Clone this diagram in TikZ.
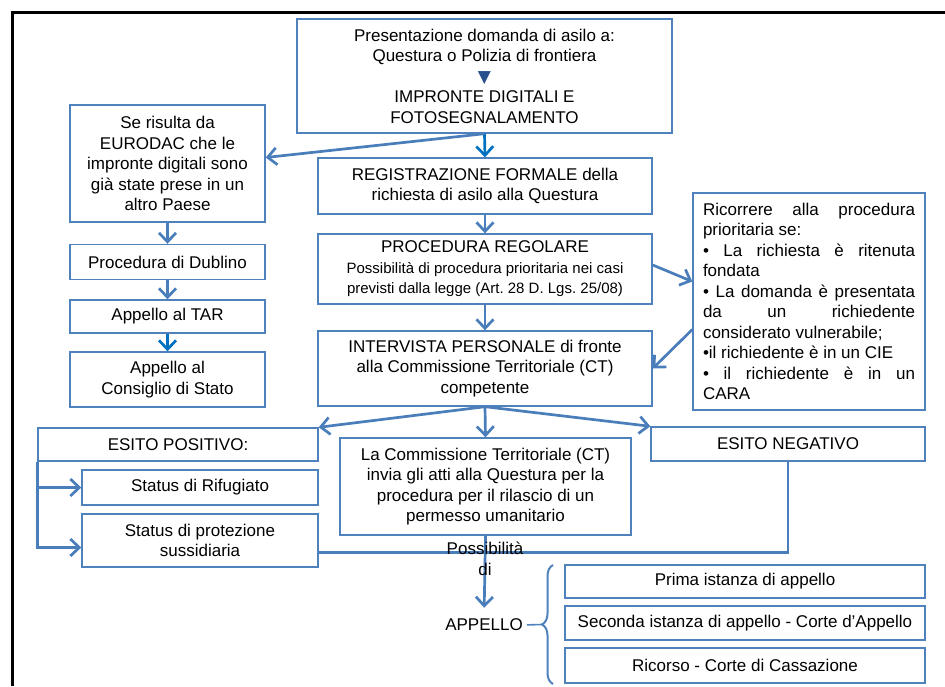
\documentclass[tikz,border=0pt]{standalone}
\usepackage{fontspec}
\setmainfont{Liberation Sans}
\newfontfamily\symbfont{DejaVu Sans}
\usepackage{tikz}
\usetikzlibrary{arrows.meta,calc,decorations.pathreplacing}
\definecolor{boxblue}{RGB}{79,129,189}
\definecolor{linkblue}{RGB}{74,126,187}
\definecolor{darkblue}{RGB}{0,112,192}
\definecolor{triblue}{RGB}{40,80,140}
\newcommand\nohyphens{\hyphenpenalty=10000 \exhyphenpenalty=10000 \tolerance=9999 \relax}

\begin{document}
\begin{tikzpicture}[
    x=1pt, y=-1pt,
    box/.style={draw=boxblue, line width=1.4pt, fill=white, align=center, inner sep=0pt, font=\fontsize{17}{20.5}\selectfont},
    freetext/.style={inner sep=0pt, align=center, font=\fontsize{17}{20.5}\selectfont},
    edge/.style={-{Straight Barb[length=9pt,width=17pt]}, draw=linkblue, line width=2.7pt},
    link/.style={draw=linkblue, line width=2.7pt},
    bracket/.style={draw=boxblue, line width=2pt, decorate, decoration={brace, amplitude=11pt}}
]
    \useasboundingbox (0,0) rectangle (945,686);
    \draw[black, line width=2.5pt] (945,12.5) -- (12.5,12.5) -- (12.5,686);

    \node[box, minimum width=375pt, minimum height=114pt] (pres) at (484.5,76) {Presentazione domanda di asilo a:\\ Questura o Polizia di frontiera\\ {\symbfont\color{triblue}▼}\\ IMPRONTE DIGITALI E\\ FOTOSEGNALAMENTO};
    \node[box, minimum width=195pt, minimum height=117pt] (eurodac) at (167.5,163.5) {Se risulta da\\ EURODAC che le\\ impronte digitali sono\\ già state prese in un\\ altro Paese};
    \node[box, minimum width=195pt, minimum height=35pt] (dublino) at (167.5,262) {Procedura di Dublino};
    \node[box, minimum width=195pt, minimum height=33pt] (tar) at (167.5,316.5) {Appello al TAR};
    \node[box, minimum width=195pt, minimum height=55pt] (consiglio) at (167.5,379.5) {Appello al\\ Consiglio di Stato};
    \node[box, minimum width=334pt, minimum height=56pt] (reg) at (485,186) {REGISTRAZIONE FORMALE della\\ richiesta di asilo alla Questura};
    \node[box, minimum width=334pt, minimum height=70pt] (proc) at (485,269) {PROCEDURA REGOLARE\\ {\fontsize{15}{19}\selectfont Possibilità di procedura prioritaria nei casi}\\ {\fontsize{15}{19}\selectfont previsti dalla legge (Art.~28 D.~Lgs.~25/08)}};
    \node[box, minimum width=334pt, minimum height=75pt] (interv) at (485,368.5) {INTERVISTA PERSONALE di fronte\\ alla Commissione Territoriale (CT)\\ competente};
    \node[box, minimum width=232pt, minimum height=217pt, text width=212pt, align=justify,
          font=\fontsize{17}{20.5}\selectfont\nohyphens] (prior) at (809,301.5)
        {Ricorrere alla procedura prioritaria se:\\
         • La richiesta è ritenuta fondata\\
         • La domanda è presentata da un richiedente considerato vulnerabile;\\
         •il richiedente è in un CIE\\
         • il richiedente è in un \linebreak CARA};
    \node[box, minimum width=280pt, minimum height=33pt] (pos) at (178,444.5) {ESITO POSITIVO:};
    \node[box, minimum width=236pt, minimum height=35pt] (rifug) at (200,487.5) {Status di Rifugiato};
    \node[box, minimum width=236pt, minimum height=53pt] (sussid) at (200,540.5) {Status di protezione\\ sussidiaria};
    \node[box, minimum width=291pt, minimum height=97pt] (ct) at (485.5,486.5) {La Commissione Territoriale (CT)\\ invia gli atti alla Questura per la\\ procedura per il rilascio di un\\ permesso umanitario};
    \node[box, minimum width=274pt, minimum height=34pt] (neg) at (788,444) {ESITO NEGATIVO};
    \node[freetext] (appello) at (484,625) {APPELLO};
    \node[box, minimum width=360pt, minimum height=33pt] (prima) at (745,581.5) {Prima istanza di appello};
    \node[box, minimum width=360pt, minimum height=34pt] (seconda) at (745,623) {Seconda istanza di appello - Corte d'Appello};
    \node[box, minimum width=360pt, minimum height=35pt] (ricorso) at (745,665.5) {Ricorso - Corte di Cassazione};
    \coordinate (bracetip) at (542,624.5);

    \draw[edge, draw=darkblue] (pres.south) -- (reg.north);
    \draw[edge] (pres.south) -- ($(eurodac.east)+(0,-6)$);
    \draw[edge] (eurodac) -- (dublino);
    \draw[edge] (dublino) -- (tar);
    \draw[edge, draw=darkblue] (tar) -- (consiglio);
    \draw[edge] (reg) -- (proc);
    \draw[edge] (proc) -- (interv);
    \draw[edge] ($(proc.east)+(0,-4)$) -- ($(prior.west)+(0,-20)$);
    \draw[edge] ($(prior.west)+(0,28)$) -- (interv.east);
    \draw[edge] (interv.south) -- (pos.north east);
    \draw[edge] (interv.south) -- (ct.north);
    \draw[edge] (interv.south) -- (neg.north west);
    \draw[edge] (pos.south west) |- (rifug.west);
    \draw[edge] (pos.south west) |- ($(sussid.west)+(0,7)$);
    \draw[link] (neg.south) |- ($(sussid.east)+(0,12)$);
    \draw[edge, shorten >=11pt] (ct.south) -- (appello.north);
    \node[freetext] (possib) at (485,559) {Possibilità\\ di};
    \draw[bracket] (553,684) -- (553,565);
    \draw[draw=boxblue, line width=1.6pt, shorten <=4pt] (appello.east) -- (bracetip);
\end{tikzpicture}
\end{document}
